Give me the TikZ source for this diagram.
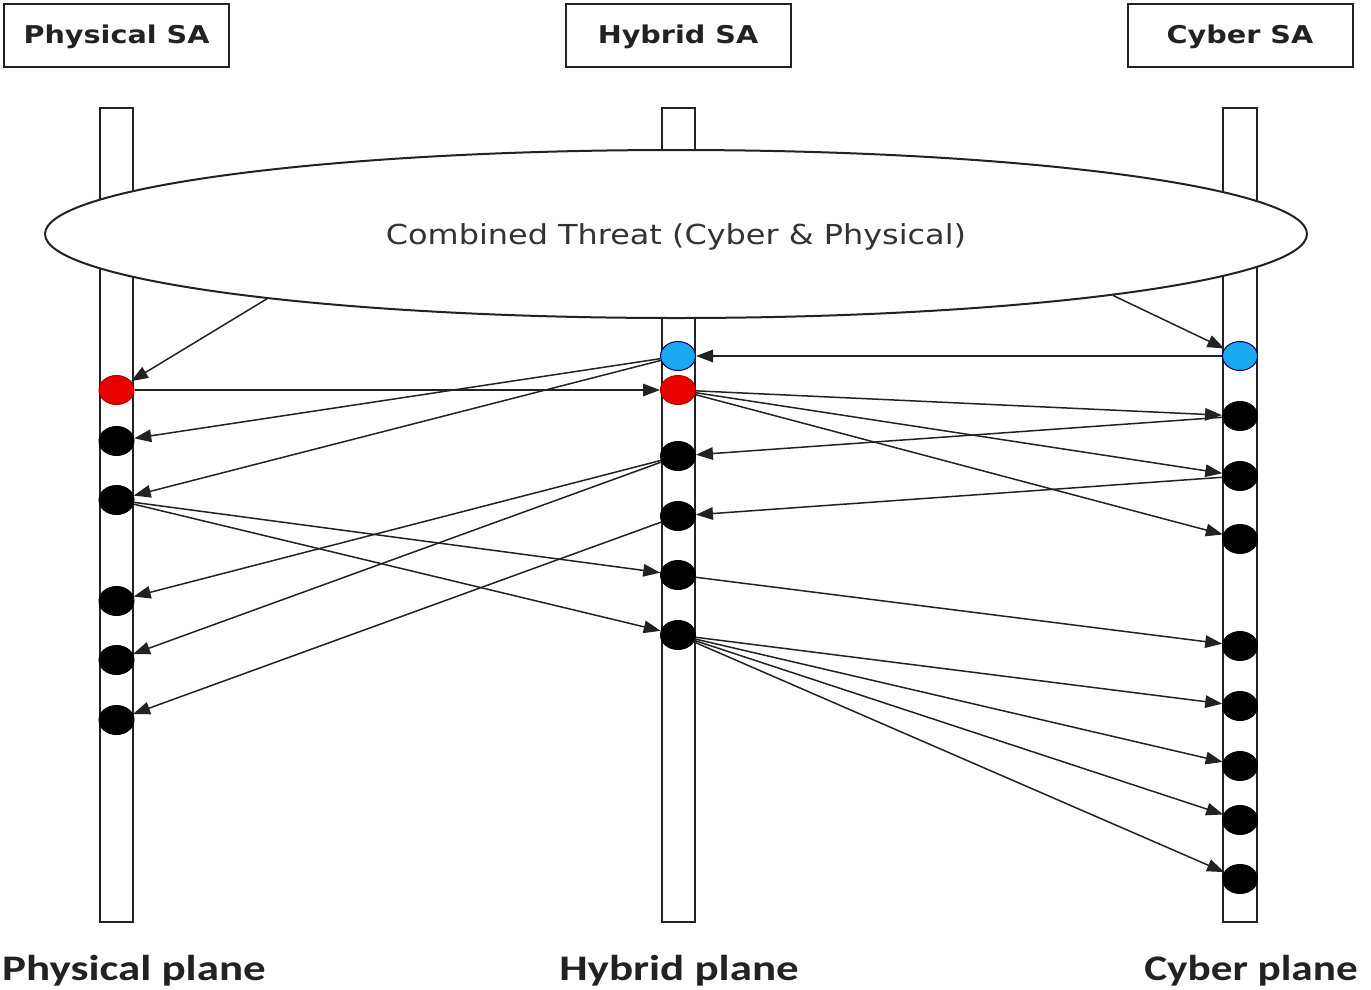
\documentclass[tikz,border=0pt]{standalone}
\usepackage{graphicx}
\usepackage{fontspec}
\setmainfont{DejaVu Sans}
\newfontfamily\calfont{Carlito}
\usetikzlibrary{arrows.meta,shapes.geometric}
\newcommand{\hstretch}[2]{\scalebox{#1}[1]{#2}}
\definecolor{ink}{HTML}{222222}
\definecolor{dotred}{HTML}{E80000}
\definecolor{dotblue}{HTML}{1AA8EE}
\begin{document}
\begin{tikzpicture}[x=1pt,y=-1pt,
  sabox/.style={draw=ink, line width=2pt, minimum width=225pt, minimum height=63pt, inner sep=0pt,
    text height=17pt, text depth=0pt,
    font=\fontsize{24.5}{28}\selectfont\bfseries, text=ink},
  bar/.style={draw=ink, line width=2pt, fill=white},
  dot/.style={ellipse, minimum width=35pt, minimum height=29pt, inner sep=0pt, fill=black, draw=black, line width=1pt},
  rdot/.style={dot, fill=dotred, draw=red!70!black},
  bdot/.style={dot, fill=dotblue, draw=blue!40!black},
  conn/.style={draw=ink, line width=1.5pt, -{Triangle[length=17pt,width=12.5pt]}},
  plane/.style={font=\calfont\bfseries\fontsize{36}{40}\selectfont, text=ink, anchor=base, inner sep=0pt}
]
\useasboundingbox (0,0) rectangle (1371,989);
% header boxes
\node[sabox] (psa) at (116.5,35) {\hstretch{1.17}{Physical SA}};
\node[sabox] (hsa) at (678,35) {\hstretch{1.17}{Hybrid SA}};
\node[sabox] (csa) at (1240,35) {\hstretch{1.17}{Cyber SA}};
% bars
\draw[bar] (99.5,108) rectangle (133,922);
\draw[bar] (661.5,108) rectangle (695,922);
\draw[bar] (1223,108) rectangle (1256.5,922);
% ellipse
\node[ellipse, draw=ink, line width=2pt, fill=white, minimum width=1262pt, minimum height=168pt, inner sep=0pt,
  text height=20pt, text depth=0pt,
  font=\fontsize{27.5}{30}\selectfont, text=black!80] (thr) at (676,234) {\hstretch{1.16}{Combined Threat (Cyber \& Physical)}};
% physical dots
\node[rdot] (p1) at (116.5,390) {};
\node[dot] (p2) at (116.5,441) {};
\node[dot] (p3) at (116.5,500) {};
\node[dot] (p4) at (116.5,601) {};
\node[dot] (p5) at (116.5,660) {};
\node[dot] (p6) at (116.5,720) {};
% hybrid dots
\node[bdot] (h0) at (678,356) {};
\node[rdot] (h1) at (678,390) {};
\node[dot] (h2) at (678,456) {};
\node[dot] (h3) at (678,516) {};
\node[dot] (h4) at (678,575) {};
\node[dot] (h5) at (678,635) {};
% cyber dots
\node[bdot] (c0) at (1240,356) {};
\node[dot] (c1) at (1240,416) {};
\node[dot] (c2) at (1240,476) {};
\node[dot] (c3) at (1240,539) {};
\node[dot] (c4) at (1240,646) {};
\node[dot] (c5) at (1240,706) {};
\node[dot] (c6) at (1240,766) {};
\node[dot] (c7) at (1240,820) {};
\node[dot] (c8) at (1240,879) {};
% plane labels
\node[plane] (pp) at (134,980) {\hstretch{1.25}{Physical plane}};
\node[plane] (hp) at (679,980) {\hstretch{1.25}{Hybrid plane}};
\node[plane] (cp) at (1251,980) {\hstretch{1.2}{Cyber plane}};
% connectors
\draw[conn] (thr.189.3) -- (p1);
\draw[conn] (thr.352.6) -- (c0);
\draw[conn] (c0) -- (h0);
\draw[conn] (p1) -- (h1);
\draw[conn] (h0) -- (p2);
\draw[conn] (h0) -- (p3);
\draw[conn] (h1) -- (c1);
\draw[conn] (h1) -- (c2);
\draw[conn] (h1) -- (c3);
\draw[conn] (c1) -- (h2);
\draw[conn] (c2) -- (h3);
\draw[conn] (h2) -- (p4);
\draw[conn] (h2) -- (p5);
\draw[conn] (h3) -- (p6);
\draw[conn] (p3) -- (h4);
\draw[conn] (p3) -- (h5);
\draw[conn] (h4) -- (c4);
\draw[conn] (h5) -- (c5);
\draw[conn] (h5) -- (c6);
\draw[conn] (h5) -- (c7);
\draw[conn] (h5) -- (c8);
\end{tikzpicture}
\end{document}
